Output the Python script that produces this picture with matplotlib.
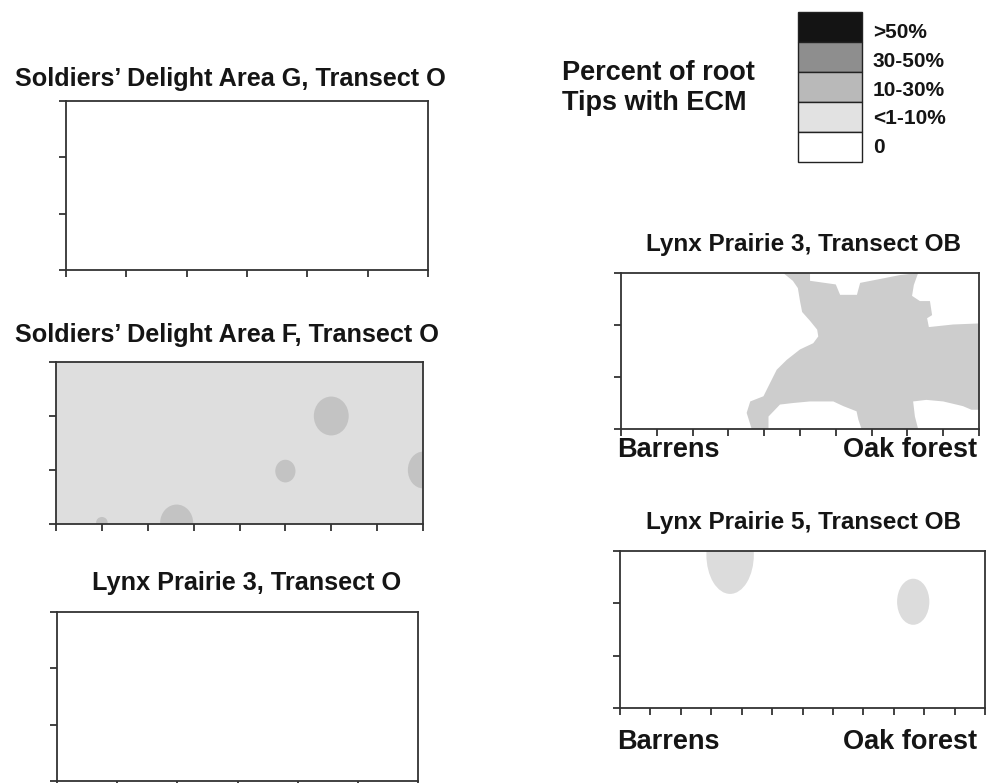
import matplotlib.pyplot as plt
from matplotlib.patches import Ellipse, Polygon, Rectangle

plt.rcParams['font.family'] = ['Liberation Sans', 'DejaVu Sans']
plt.rcParams['font.weight'] = 'bold'

# legend classes (top to bottom)
legend_labels = ['>50%', '30-50%', '10-30%', '<1-10%', '0']
legend_colors = ['#141414', '#8e8e8e', '#b9b9b9', '#e2e2e2', '#ffffff']

# Soldiers' Delight Area F: whole transect <1-10%, patches of 10-30%
sdf_blob_x = [6.0, 5.0, 8.0, 2.63, 1.0]
sdf_blob_y = [2.0, 0.98, 1.0, 0.02, 0.03]
sdf_blob_w = [0.76, 0.44, 0.66, 0.72, 0.25]
sdf_blob_h = [0.72, 0.42, 0.68, 0.68, 0.20]

# Lynx Prairie 3, transect OB: one region with ECM
lp3ob_x = [4.53, 4.80, 4.94, 5.00, 5.06, 5.28, 5.48, 5.51, 5.37, 5.00, 4.63, 4.35,
           4.16, 3.98, 3.61, 3.51, 3.65, 4.12, 4.12, 4.26, 4.44, 4.81, 5.28, 5.93,
           6.21, 6.58, 6.63, 6.72, 8.30, 8.21, 8.16, 8.53, 9.00, 9.55, 9.79, 10.0,
           10.0, 9.28, 8.60, 8.55, 8.69, 8.63, 8.35, 8.13, 8.18, 8.30, 7.79, 7.20,
           6.68, 6.59, 6.12, 6.00, 5.28, 5.28]
lp3ob_y = [3.00, 2.85, 2.71, 2.46, 2.25, 2.08, 1.91, 1.78, 1.65, 1.53, 1.33, 1.14,
           0.88, 0.63, 0.53, 0.31, 0.00, 0.00, 0.24, 0.34, 0.47, 0.50, 0.53, 0.53,
           0.44, 0.34, 0.18, 0.00, 0.00, 0.24, 0.53, 0.56, 0.53, 0.44, 0.37, 0.37,
           2.03, 2.01, 1.96, 2.13, 2.19, 2.46, 2.46, 2.56, 2.77, 3.00, 2.96, 2.88,
           2.81, 2.58, 2.58, 2.78, 2.85, 3.00]

# Lynx Prairie 5, transect OB: two small <1-10% patches
lp5_blob_x = [3.62, 9.64]
lp5_blob_y = [2.93, 2.03]
lp5_blob_w = [1.56, 1.06]
lp5_blob_h = [1.50, 0.88]

W, H = 990, 783
fig = plt.figure(figsize=(W / 100, H / 100), dpi=100)

SPINE = '#333333'


def px_axes(left, top, right, bottom):
    return fig.add_axes([left / W, 1 - bottom / H, (right - left) / W, (bottom - top) / H])


def frame(ax, nx, ny):
    ax.set_xlim(0, nx)
    ax.set_ylim(0, ny)
    ax.set_xticks(range(nx + 1))
    ax.set_yticks(range(ny + 1))
    ax.tick_params(direction='out', length=5, width=1.3, color=SPINE,
                   labelbottom=False, labelleft=False)
    for s in ax.spines.values():
        s.set_color(SPINE)
        s.set_linewidth(1.3)


def title(x, y, s, ha='center', size=18.2):
    fig.text(x / W, 1 - y / H, s, ha=ha, va='center', fontsize=size,
             fontweight='bold', color='#151515')


# Soldiers' Delight Area G
ax1 = px_axes(66, 101, 428, 270)
frame(ax1, 6, 3)
title(15, 79, 'Soldiers\u2019 Delight Area G, Transect O', ha='left')

# Soldiers' Delight Area F
ax2 = px_axes(56, 362, 423, 524)
frame(ax2, 8, 3)
ax2.set_facecolor('#dedede')
for x, y, w, h in zip(sdf_blob_x, sdf_blob_y, sdf_blob_w, sdf_blob_h):
    ax2.add_patch(Ellipse((x, y), w, h, facecolor='#c3c3c3', edgecolor='none'))
title(15, 335, 'Soldiers\u2019 Delight Area F, Transect O', ha='left')

# Lynx Prairie 3, transect O
ax3 = px_axes(57, 612, 418, 781)
frame(ax3, 6, 3)
title(247, 583, 'Lynx Prairie 3, Transect O')

# Lynx Prairie 3, transect OB
ax4 = px_axes(621, 273, 979, 429)
frame(ax4, 10, 3)
ax4.add_patch(Polygon(list(zip(lp3ob_x, lp3ob_y)), closed=True,
                      facecolor='#cdcdcd', edgecolor='none', zorder=0.5))
title(803, 245, 'Lynx Prairie 3, Transect OB', size=17.5)
title(617, 450, 'Barrens', ha='left', size=19.5)
title(977, 450, 'Oak forest', ha='right', size=19.5)

# Lynx Prairie 5, transect OB
ax5 = px_axes(620, 551, 985, 708)
frame(ax5, 12, 3)
for x, y, w, h in zip(lp5_blob_x, lp5_blob_y, lp5_blob_w, lp5_blob_h):
    ax5.add_patch(Ellipse((x, y), w, h, facecolor='#dcdcdc', edgecolor='none'))
title(803, 522, 'Lynx Prairie 5, Transect OB', size=17.5)
title(617, 742, 'Barrens', ha='left', size=19.5)
title(977, 742, 'Oak forest', ha='right', size=19.5)

# legend
title(562, 73, 'Percent of root', ha='left', size=19.5)
title(562, 103, 'Tips with ECM', ha='left', size=19.5)
lax = px_axes(798, 12, 862, 162)
lax.set_xlim(0, 1)
lax.set_ylim(0, len(legend_labels))
lax.axis('off')
n = len(legend_labels)
for i, (lab, col) in enumerate(zip(legend_labels, legend_colors)):
    yb = n - 1 - i
    lax.add_patch(Rectangle((0, yb), 1, 1, facecolor=col, edgecolor='#222222',
                            linewidth=1.0, clip_on=False))
    lax.text(1.17, yb + 0.5 - 0.17 + 0.035 * i, lab, ha='left', va='center',
             fontsize=15, fontweight='bold', color='#151515', clip_on=False)

fig.savefig('out.png', dpi=100)
